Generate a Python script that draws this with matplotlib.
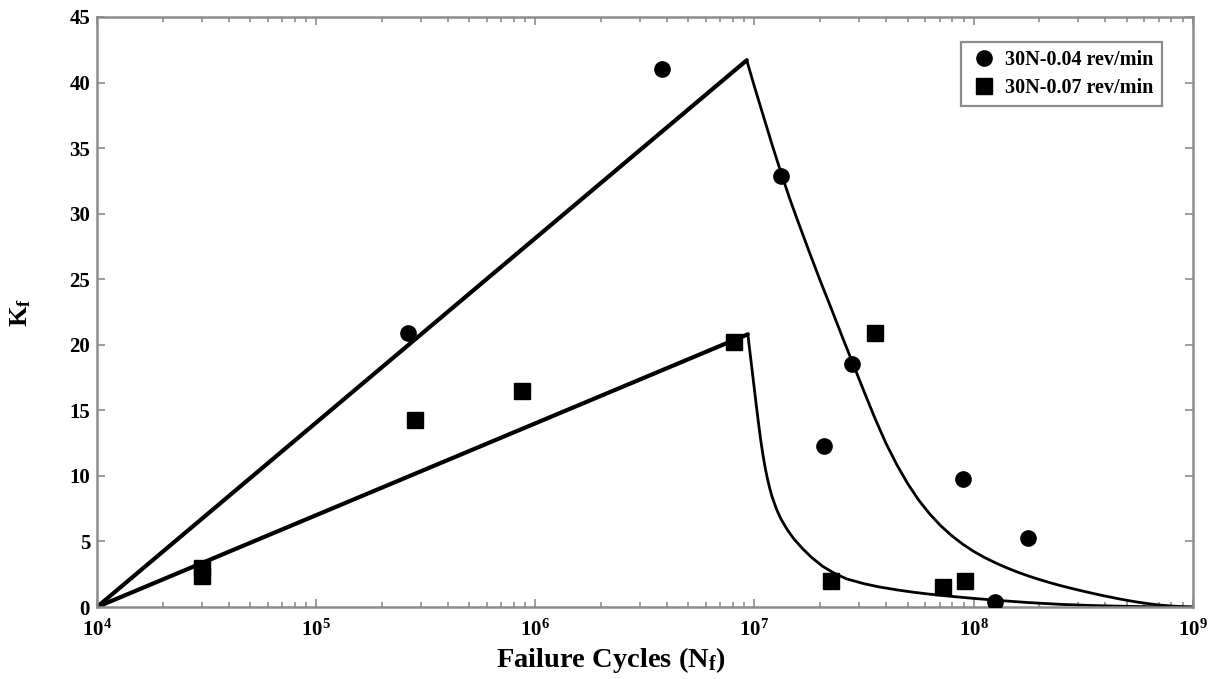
import numpy as np
import matplotlib
matplotlib.use('Agg')
import matplotlib.pyplot as plt
from matplotlib.ticker import LogLocator, NullFormatter, MultipleLocator
from matplotlib.lines import Line2D

# ========== data ==========
# measured points, 30N-0.04 rev/min (circles)
cycles_004 = [2.62e5, 3.78e6, 1.32e7, 2.07e7, 2.78e7, 8.93e7, 1.25e8, 1.77e8]
kf_004 = [20.9, 41.0, 32.9, 12.3, 18.5, 9.8, 0.4, 5.3]

# measured points, 30N-0.07 rev/min (squares)
cycles_007 = [3.0e4, 3.0e4, 2.83e5, 8.7e5, 8.1e6, 2.23e7, 3.54e7, 7.25e7, 9.1e7]
kf_007 = [3.0, 2.4, 14.3, 16.5, 20.2, 2.0, 20.9, 1.5, 2.0]

# model curves, read as log10(cycles) / Kf : rising part (thick) and decaying part (thin)
upperRiseLogN = [4.0, 6.965]
upperRiseK = [0.0, 41.7]
upperDecayLogN = [6.965, 7.00, 7.04, 7.08, 7.12, 7.16, 7.20, 7.25, 7.30, 7.35, 7.40,
                  7.45, 7.50, 7.55, 7.60, 7.65, 7.70, 7.75, 7.80, 7.85, 7.90, 7.95,
                  8.00, 8.05, 8.10, 8.15, 8.20, 8.25, 8.30, 8.35, 8.40, 8.45, 8.50,
                  8.55, 8.60, 8.65, 8.70, 8.75, 8.80, 8.85, 8.90, 8.95, 9.0]
upperDecayK = [41.7, 39.7, 37.5, 35.3, 33.2, 31.2, 29.35, 27.1, 24.9, 22.8, 20.65,
               18.55, 16.45, 14.4, 12.5, 10.85, 9.4, 8.15, 7.1, 6.2, 5.45, 4.8,
               4.25, 3.78, 3.37, 3.0, 2.67, 2.37, 2.1, 1.85, 1.62, 1.41, 1.21,
               1.02, 0.84, 0.67, 0.51, 0.37, 0.25, 0.15, 0.08, 0.03, 0.0]

lowerRiseLogN = [4.0, 6.97]
lowerRiseK = [0.0, 20.8]
lowerDecayLogN = [6.97, 6.98, 6.99, 7.00, 7.01, 7.02, 7.03, 7.04, 7.05, 7.06, 7.07,
                  7.08, 7.10, 7.12, 7.15, 7.18, 7.22, 7.26, 7.31, 7.36, 7.42, 7.50,
                  7.57, 7.65, 7.72, 7.80, 7.90, 8.00, 8.10, 8.25, 8.40, 8.55, 8.70,
                  8.85, 9.0]
lowerDecayK = [20.8, 19.4, 18.0, 16.6, 15.2, 13.85, 12.6, 11.5, 10.55, 9.75, 9.05,
               8.45, 7.5, 6.75, 5.9, 5.2, 4.45, 3.8, 3.12, 2.62, 2.15, 1.78,
               1.53, 1.31, 1.14, 0.98, 0.81, 0.66, 0.52, 0.34, 0.2, 0.11, 0.05,
               0.015, 0.0]

legendLabels = ['30N-0.04 rev/min', '30N-0.07 rev/min']

# ========== plot ==========
plt.rcParams['font.family'] = ['Liberation Serif', 'DejaVu Serif']
plt.rcParams['font.weight'] = 'bold'
plt.rcParams['mathtext.fontset'] = 'custom'
plt.rcParams['mathtext.rm'] = 'Liberation Serif:bold'
plt.rcParams['mathtext.it'] = 'Liberation Serif:bold'
plt.rcParams['mathtext.bf'] = 'Liberation Serif:bold'

axisGrey = '#8c8c8c'

def toCycles(logs):
    return [10.0 ** v for v in logs]

fig = plt.figure(figsize=(12.17, 6.79), dpi=100)
ax = fig.add_axes([0.0797, 0.106, 0.9003, 0.869])

ax.plot(toCycles(upperRiseLogN), upperRiseK, color='black', lw=3.0, solid_capstyle='round')
ax.plot(toCycles(lowerRiseLogN), lowerRiseK, color='black', lw=3.0, solid_capstyle='round')
ax.plot(toCycles(upperDecayLogN), upperDecayK, color='black', lw=2.0)
ax.plot(toCycles(lowerDecayLogN), lowerDecayK, color='black', lw=2.0)

ax.plot(cycles_004, kf_004, 'o', color='black', ms=11, zorder=5)
ax.plot(cycles_007, kf_007, 's', color='black', ms=11, zorder=5)

ax.set_xscale('log')
ax.set_xlim(1e4, 1e9)
ax.set_ylim(0, 45)
ax.xaxis.set_major_locator(LogLocator(base=10, numticks=10))
ax.xaxis.set_minor_locator(LogLocator(base=10, subs=np.arange(2, 10), numticks=20))
ax.xaxis.set_minor_formatter(NullFormatter())
ax.yaxis.set_major_locator(MultipleLocator(5))

for side in ax.spines.values():
    side.set_color(axisGrey)
    side.set_linewidth(1.8)

ax.tick_params(which='both', direction='in', top=True, right=True, color=axisGrey, width=1.2)
ax.tick_params(which='major', length=6, labelsize=15)
ax.tick_params(axis='x', which='major', pad=9)
ax.tick_params(axis='y', which='major', pad=5)
ax.tick_params(which='minor', length=3.5)
for lbl in ax.get_xticklabels() + ax.get_yticklabels():
    lbl.set_fontweight('bold')

ax.set_xlabel('Failure Cycles (N$_{\\mathdefault{f}}$)', fontsize=20.5, fontweight='bold')
ax.xaxis.set_label_coords(0.469, -0.064)
ax.set_ylabel('K$_{\\mathdefault{f}}$', fontsize=19, fontweight='bold', labelpad=26)

handles = [Line2D([], [], marker='o', ls='none', color='black', ms=11),
           Line2D([], [], marker='s', ls='none', color='black', ms=11)]
leg = ax.legend(handles, legendLabels, loc='upper right', bbox_to_anchor=(0.9717, 0.958),
                fancybox=False, framealpha=1, edgecolor=axisGrey, fontsize=14.5,
                handletextpad=0.3, borderpad=0.4, labelspacing=0.4, handlelength=1.5,
                borderaxespad=0)
leg.get_frame().set_linewidth(1.6)
for t in leg.get_texts():
    t.set_fontweight('bold')

plt.savefig('out.png', dpi=100)
